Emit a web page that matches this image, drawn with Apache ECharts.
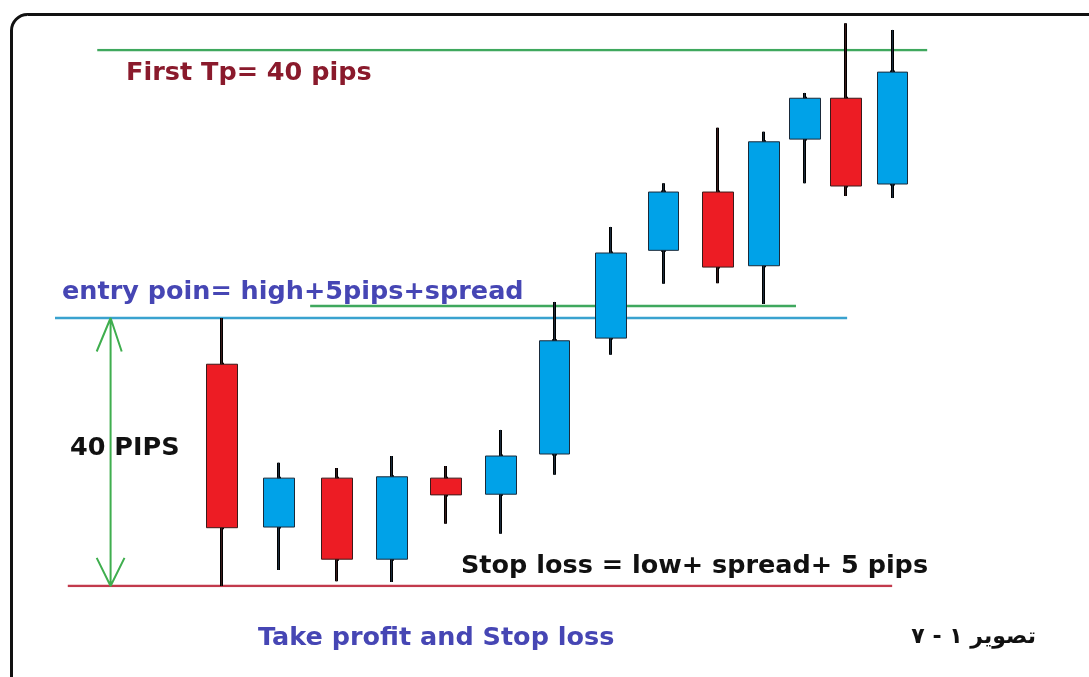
<!DOCTYPE html>
<html>
<head>
<meta charset="utf-8">
<script src="https://cdn.jsdelivr.net/npm/echarts@6/dist/echarts.min.js"></script>
<style>
  html, body { margin: 0; padding: 0; background: #fff; }
  #chart { width: 1089px; height: 677px; }
</style>
</head>
<body>
<div id="chart"></div>
<script>
  // bar times (irregular spacing, as drawn)
  var times = [1.0, 2.03, 3.07, 4.06, 5.03, 6.02, 6.99, 8.0, 8.95, 9.93, 10.75, 11.49, 12.23, 13.07]
  // prices in pips above the stop loss level
  var opens  = [33.1, 8.8, 16.1, 4.0, 16.1, 13.7, 19.7, 37.0, 50.1, 58.8, 47.8, 66.7, 72.8, 60.0]
  var closes = [8.7, 16.1, 4.0, 16.3, 13.6, 19.4, 36.6, 49.7, 58.8, 47.6, 66.3, 72.8, 59.7, 76.7]
  var lows   = [0, 2.4, 0.7, 0.6, 9.3, 7.8, 16.6, 34.5, 45.1, 45.2, 42.1, 60.1, 58.2, 57.9]
  var highs  = [40, 18.4, 17.6, 19.4, 17.9, 23.3, 42.4, 53.6, 60.1, 68.4, 67.8, 73.6, 84.0, 83.0]

  // level lines: [startTime, endTime, price]
  var tpLine = [-1.24, 13.69, 80]
  var entryLine = [-2, 12.25, 40]
  var entryGreen = [2.59, 11.33, 41.8]
  var stopLine = [-1.77, 13.06, 0]

  var candles = times.map(function (t, i) {
    return [t, opens[i], closes[i], lows[i], highs[i]]
  })

  function seg(l) {
    return [[l[0], l[2]], [l[1], l[2]]]
  }

  // double arrow for the 40 pips range
  var ax = -1.0
  var arrow = [
    [ax, 0], [ax, 40], null,
    [ax - 0.25, 35], [ax, 40], [ax + 0.2, 35], null,
    [ax - 0.25, 4.2], [ax, 0], [ax + 0.25, 4.2]
  ]

  var chart = echarts.init(document.getElementById('chart'))
  var font = 'bold 25.5px "DejaVu Sans", sans-serif'

  function label(x, y, text, color) {
    return {
      type: 'text', x: x, y: y,
      style: { text: text, fill: color, font: font, verticalAlign: 'middle' }
    }
  }

  chart.setOption({
    animation: false,
    grid: { left: 55, right: 89, top: 50, bottom: 91 },
    xAxis: { type: 'value', min: -2, max: 15, show: false },
    yAxis: { type: 'value', min: 0, max: 80, show: false },
    graphic: [
      {
        type: 'rect', left: 9, top: 12, z: 0,
        shape: { width: 1110, height: 700, r: 16 },
        style: { fill: 'none', stroke: '#111', lineWidth: 3 }
      },
      label(126, 73, 'First Tp= 40 pips', '#8a1a2c'),
      label(62, 292, 'entry poin= high+5pips+spread', '#4646b4'),
      label(70, 448, '40 PIPS', '#111'),
      label(461, 566, 'Stop loss = low+ spread+ 5 pips', '#111'),
      label(258, 638, 'Take profit and Stop loss', '#4646b4'),
      {
        type: 'text', x: 1036, y: 637,
        style: {
          text: 'تصویر ١ - ٧', fill: '#111', align: 'right', verticalAlign: 'middle',
          font: 'bold 22px "DejaVu Sans", sans-serif'
        }
      }
    ],
    series: [
      {
        type: 'line', data: seg(tpLine), symbol: 'none', silent: true,
        lineStyle: { color: '#3fa85e', width: 2.5 }
      },
      {
        type: 'line', data: seg(entryLine), symbol: 'none', silent: true,
        lineStyle: { color: '#3aa2cf', width: 2.5 }
      },
      {
        type: 'line', data: seg(entryGreen), symbol: 'none', silent: true,
        lineStyle: { color: '#3fa85e', width: 2.5 }
      },
      {
        type: 'line', data: seg(stopLine), symbol: 'none', silent: true,
        lineStyle: { color: '#c23a4c', width: 2.5 }
      },
      {
        type: 'line', data: arrow, symbol: 'none', silent: true, connectNulls: false,
        lineStyle: { color: '#3fae4e', width: 2 }
      },
      {
        // thick wicks
        type: 'candlestick', data: candles, clip: false, barWidth: 2, z: 3,
        encode: { x: 0, y: [1, 2, 3, 4] },
        itemStyle: { color: '#000', color0: '#000', borderColor: '#000', borderColor0: '#000', borderWidth: 3 }
      },
      {
        type: 'candlestick', data: candles, clip: false, barWidth: 31, z: 4,
        encode: { x: 0, y: [1, 2, 3, 4] },
        itemStyle: {
          color: '#00a2e8', color0: '#ed1c24',
          borderColor: '#1a2a3a', borderColor0: '#3a1a1a', borderWidth: 1
        }
      }
    ]
  })
</script>
</body>
</html>
